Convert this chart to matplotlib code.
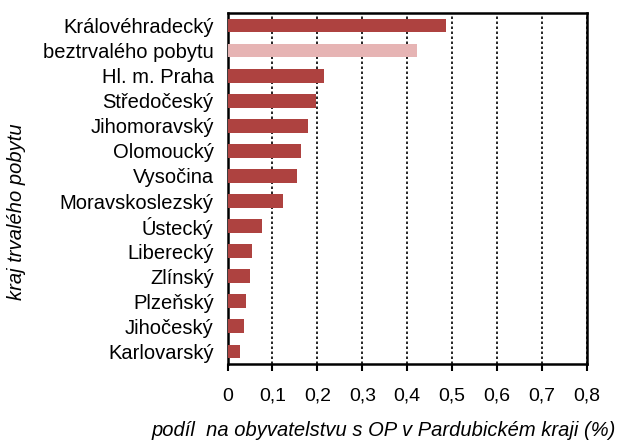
import matplotlib
matplotlib.use('Agg')
import matplotlib.pyplot as plt
from matplotlib.ticker import FuncFormatter

kraje = ['Královéhradecký', 'beztrvalého pobytu', 'Hl. m. Praha', 'Středočeský',
         'Jihomoravský', 'Olomoucký', 'Vysočina', 'Moravskoslezský', 'Ústecký',
         'Liberecký', 'Zlínský', 'Plzeňský', 'Jihočeský', 'Karlovarský']
podil = [0.487, 0.422, 0.215, 0.198, 0.179, 0.164, 0.155, 0.123, 0.077,
         0.055, 0.050, 0.041, 0.037, 0.028]
barvy = ['#AE4240', '#E6B4B4'] + ['#AE4240'] * 12

plt.rcParams['font.family'] = ['Liberation Sans', 'DejaVu Sans']

fig = plt.figure(figsize=(6.25, 4.41), dpi=100)
ax = fig.add_axes([0.364, 0.1746, 0.575, 0.796])

pozice = list(range(len(kraje)))
ax.barh(pozice, podil, height=0.55, color=barvy, zorder=3)
ax.set_ylim(len(kraje) - 0.5, -0.5)
ax.set_yticks(pozice)
ax.set_yticklabels(kraje, fontsize=14.5)
ax.tick_params(axis='y', length=0, pad=10)

ax.set_xlim(0, 0.8)
ax.set_xticks([i / 10 for i in range(9)])
ax.xaxis.set_major_formatter(FuncFormatter(lambda v, p: ('%g' % round(v, 1)).replace('.', ',')))
ax.tick_params(axis='x', direction='out', length=5, width=1.5, pad=12, labelsize=14)

ax.grid(axis='x', color='black', linestyle=(0, (1.5, 1.5)), linewidth=1.2, zorder=1)
for s in ax.spines.values():
    s.set_linewidth(1.8)

fig.text(384 / 625, 1 - 430 / 441, 'podíl  na obyvatelstvu s OP v Pardubickém kraji (%)',
         style='italic', fontsize=14.5, ha='center', va='center')
fig.text(17 / 625, 1 - 212 / 441, 'kraj trvalého pobytu', style='italic', fontsize=14.5,
         rotation=90, ha='center', va='center')

fig.savefig('out.png', dpi=100)
plt.close(fig)
